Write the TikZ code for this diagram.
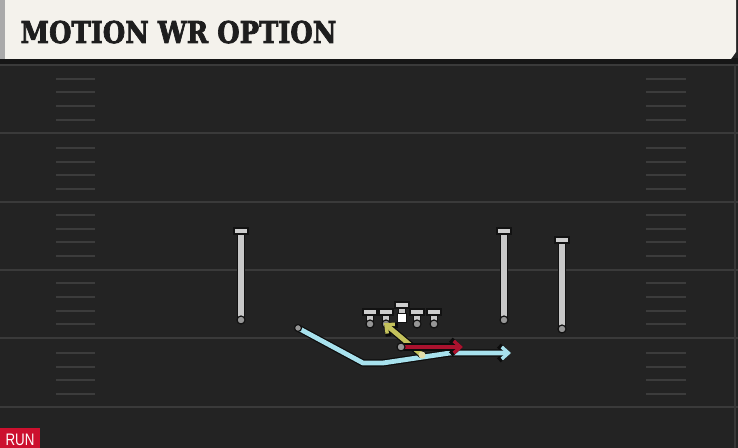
\documentclass[tikz,border=0pt]{standalone}
\usepackage{fontspec}
\newfontfamily\titlefont{DejaVu Serif}[BoldFeatures={FakeBold=2.6}]
\newfontfamily\tagfont{Liberation Sans}
\usetikzlibrary{arrows.meta}

\tikzset{every picture/.style={line width=0.75pt}}
\tikzset{
  yardline/.style={color={rgb, 255:red, 58; green, 58; blue, 58 }, line width=1.5},
  hashmark/.style={color={rgb, 255:red, 60; green, 60; blue, 60 }, line width=1.5},
  stemback/.style={color={rgb, 255:red, 18; green, 18; blue, 18 }, line width=6},
  stemfront/.style={color={rgb, 255:red, 200; green, 200; blue, 200 }, line width=4},
  tbar/.style={draw={rgb, 255:red, 18; green, 18; blue, 18 }, fill={rgb, 255:red, 205; green, 205; blue, 205 }, line width=0.9},
  dot/.style={draw={rgb, 255:red, 18; green, 18; blue, 18 }, fill={rgb, 255:red, 150; green, 150; blue, 150 }, line width=0.9},
  routeback/.style={color={rgb, 255:red, 12; green, 12; blue, 12 }, line width=5.4, line join=round},
  routetip/.style={-{Straight Barb[length=5pt,width=9pt,line width=2.6pt]}},
  tipback/.style={-{Straight Barb[length=6pt,width=11pt,line width=4.2pt]}},
  motion/.style={color={rgb, 255:red, 168; green, 226; blue, 238 }, line width=3.6, line join=round},
  pitch/.style={color={rgb, 255:red, 196; green, 194; blue, 92 }, line width=3.6},
  dive/.style={color={rgb, 255:red, 170; green, 18; blue, 46 }, line width=3.6}
}

\begin{document}
\begin{tikzpicture}[x=0.75pt,y=0.75pt,yscale=-1,xscale=1]
  \useasboundingbox (0,0) rectangle (738,448);

  % field
  \fill [color={rgb, 255:red, 35; green, 35; blue, 35 }] (0,0) rectangle (738,448);
  \fill [color={rgb, 255:red, 22; green, 22; blue, 22 }] (0,58) rectangle (738,64);
  \foreach \y in {65,133,202,270,338,407}
    \draw [yardline] (0,\y) -- (738,\y);
  \foreach \y in {79,92,106,120,148,162,175,189,215,229,242,256,283,297,311,324,353,367,380,394} {
    \draw [hashmark] (56,\y) -- (95,\y);
    \draw [hashmark] (646,\y) -- (686,\y);
  }
  \draw [color={rgb, 255:red, 55; green, 55; blue, 55 }, line width=1] (735,64) -- (735,448);

  % header
  \fill [color={rgb, 255:red, 244; green, 242; blue, 236 }] (0,0) -- (736,0) -- (736,52) -- (731,59) -- (0,59) -- cycle;
  \fill [color={rgb, 255:red, 170; green, 170; blue, 170 }] (0,0) rectangle (5,59);
  \node [anchor=base west, inner sep=0, color={rgb, 255:red, 30; green, 30; blue, 30 }] (title) at (20,43)
    {\scalebox{0.86}[1]{\titlefont\fontsize{22.5pt}{22.5pt}\selectfont\bfseries MOTION WR OPTION}};

  % players: x / top / bottom
  \foreach \x/\t/\b in {241/231/320, 504/231/320, 562/240/329, 370/312/324, 386/312/324, 417/312/324, 434/312/324} {
    \draw [stemback] (\x,\t) -- (\x,\b);
    \draw [stemfront] (\x,\t) -- (\x,\b);
    \draw [tbar] (\x-7,\t-3) rectangle (\x+7,\t+3);
    \draw [dot] (\x,\b) circle [radius=4];
  }
  % center
  \draw [stemback] (402,305) -- (402,316);
  \draw [stemfront] (402,305) -- (402,316);
  \draw [tbar] (395,302) rectangle (409,308);
  \draw [draw={rgb, 255:red, 18; green, 18; blue, 18 }, fill=white, line width=0.9] (397.5,313.5) rectangle (406.5,322.5);

  \coordinate (wrM) at (298,328);
  \coordinate (qb) at (422,355);
  \coordinate (rb) at (401,347);
  \coordinate (lg) at (384,323);
  \coordinate (dipA) at (363,363);
  \coordinate (dipB) at (383,363);
  \coordinate (bendM) at (450,353);
  \coordinate (endM) at (511,353);
  \coordinate (endR) at (463,347);

  % motion
  \draw [routeback, tipback] (wrM) -- (dipA) -- (dipB) -- (bendM) -- (endM);
  \draw [motion, routetip] (wrM) -- (dipA) -- (dipB) -- (bendM) -- (endM);
  \draw [dot] (wrM) circle [radius=3.5];

  % pitch
  \draw [routeback, tipback] (qb) -- (lg);
  \draw [pitch, routetip] (qb) -- (lg);
  \fill [color={rgb, 255:red, 225; green, 220; blue, 170 }] (qb) circle [radius=3.5];

  % dive
  \draw [routeback, tipback] (rb) -- (endR);
  \draw [dive, routetip] (rb) -- (endR);
  \draw [dot] (rb) circle [radius=4];

  % tag
  \fill [color={rgb, 255:red, 204; green, 16; blue, 46 }] (0,428) rectangle (40,448);
  \node [anchor=base, inner sep=0, color=white] (tag) at (20,445)
    {\scalebox{0.8}[1]{\tagfont\fontsize{12.5pt}{12.5pt}\selectfont RUN}};
\end{tikzpicture}
\end{document}
